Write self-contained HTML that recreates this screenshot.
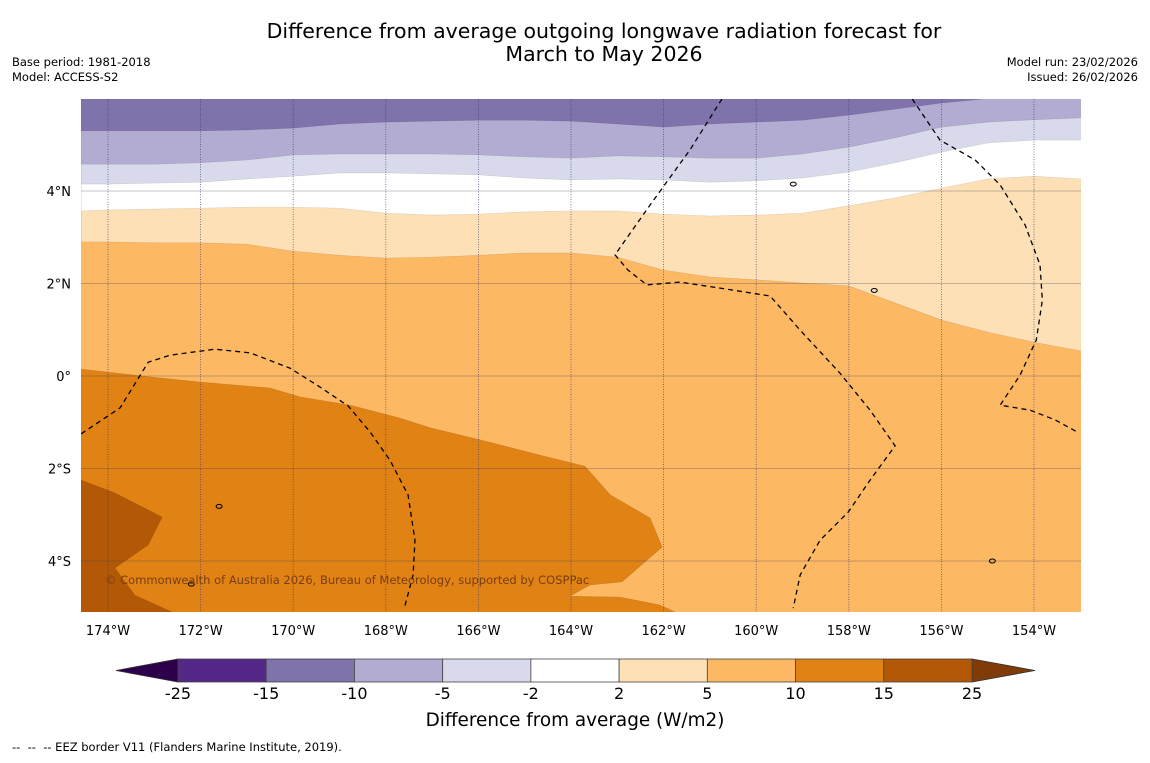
<!DOCTYPE html>
<html><head><meta charset="utf-8"><style>
body{margin:0;background:#fff;width:1150px;height:758px;overflow:hidden;font-family:"Liberation Sans","DejaVu Sans",sans-serif}
text{white-space:pre}
</style></head><body>
<svg id="c" width="1150" height="758" xmlns="http://www.w3.org/2000/svg" font-family="DejaVu Sans, Liberation Sans, sans-serif">
<rect width="1150" height="758" fill="#fff"/>
<text x="604" y="38" text-anchor="middle" font-size="20.5">Difference from average outgoing longwave radiation forecast for</text>
<text x="604" y="61" text-anchor="middle" font-size="20.5">March to May 2026</text>
<text x="12" y="66" font-size="11.5">Base period: 1981-2018</text>
<text x="12" y="81" font-size="11.5">Model: ACCESS-S2</text>
<text x="1138" y="66" font-size="11.5" text-anchor="end">Model run: 23/02/2026</text>
<text x="1138" y="81" font-size="11.5" text-anchor="end">Issued: 26/02/2026</text>
<defs><clipPath id="mc"><rect x="81" y="99" width="1000" height="513"/></clipPath></defs>
<g id="map" clip-path="url(#mc)"></g>
<g id="axes"></g>
<g id="cbar"></g>
<text x="575" y="726" text-anchor="middle" font-size="18.4">Difference from average (W/m2)</text>
<text x="12" y="751" font-size="11.5" xml:space="preserve">--  --  -- EEZ border V11 (Flanders Marine Institute, 2019).</text>
</svg>
<script>
// ---- data ----
const lonTicks=[-174,-172,-170,-168,-166,-164,-162,-160,-158,-156,-154];
const latTicks=[4,2,0,-2,-4];
const latTickLabels=["4°N","2°N","0°","2°S","4°S"];
const sampleLons=[-174.58,-174,-173,-172,-171,-170,-169,-168,-167,-166,-165,-164,-163,-162,-161,-160,-159,-158,-157,-156,-155,-154,-152.98];
// boundary latitudes (lower edge of each colour band) at sampleLons
const bound2to5=[2.90,2.90,2.88,2.88,2.85,2.70,2.61,2.55,2.57,2.61,2.66,2.66,2.57,2.29,2.14,2.08,2.01,1.95,1.58,1.21,0.95,0.73,0.54];
const boundMinus2to2=[3.57,3.59,3.61,3.63,3.65,3.65,3.63,3.52,3.48,3.50,3.55,3.57,3.57,3.50,3.46,3.48,3.52,3.68,3.85,4.06,4.26,4.32,4.26];
const boundMinus5to2=[4.15,4.15,4.17,4.19,4.26,4.32,4.39,4.39,4.37,4.35,4.28,4.24,4.26,4.24,4.19,4.22,4.28,4.41,4.61,4.84,5.04,5.10,5.10];
const boundMinus10to5=[4.58,4.58,4.58,4.61,4.67,4.78,4.80,4.80,4.80,4.78,4.74,4.71,4.76,4.74,4.71,4.71,4.80,4.95,5.15,5.38,5.49,5.54,5.58];
const boundMinus15to10=[5.30,5.30,5.30,5.30,5.32,5.36,5.45,5.49,5.51,5.53,5.53,5.51,5.45,5.38,5.45,5.49,5.53,5.64,5.77,5.90,6.0,6.0,6.0];
const region10to15=[[-174.58,0.15],[-173.09,-0.02],[-172.01,-0.13],[-170.5,-0.26],[-169.85,-0.45],[-168.77,-0.63],[-167.69,-0.91],[-167.04,-1.12],[-165.96,-1.38],[-164.67,-1.71],[-163.7,-1.95],[-163.15,-2.57],[-162.29,-3.07],[-162.03,-3.70],[-162.9,-4.45],[-163.59,-4.52],[-164.02,-4.76],[-162.94,-4.78],[-162.08,-4.95],[-161.54,-5.2],[-174.58,-5.2]];
const region15to25=[[-174.58,-2.25],[-173.85,-2.53],[-172.83,-3.05],[-173.13,-3.65],[-173.85,-4.15],[-173.42,-4.74],[-172.4,-5.2],[-174.58,-5.2]];
const eez1=[[-174.58,-1.25],[-173.74,-0.69],[-173.13,0.30],[-172.66,0.45],[-171.69,0.58],[-170.93,0.50],[-170.07,0.17],[-169.42,-0.24],[-168.81,-0.65],[-168.34,-1.21],[-167.91,-1.82],[-167.52,-2.57],[-167.37,-3.55],[-167.41,-4.30],[-167.6,-5.02]];
const eez2=[[-160.74,5.99],[-161.43,4.89],[-162.29,3.70],[-163.05,2.62],[-162.77,2.29],[-162.36,1.97],[-161.64,2.03],[-160.78,1.90],[-159.7,1.73],[-159.05,0.99],[-158.19,0.06],[-157.54,-0.74],[-157.0,-1.51],[-157.54,-2.25],[-158.01,-2.94],[-158.62,-3.55],[-159.05,-4.30],[-159.2,-5.02]];
const eez3=[[-156.63,5.99],[-156.03,5.10],[-155.27,4.67],[-154.73,4.13],[-154.19,3.26],[-153.87,2.40],[-153.82,1.64],[-153.95,0.78],[-154.3,0.02],[-154.73,-0.63],[-154.08,-0.74],[-153.54,-0.95],[-153.07,-1.21]];
const islands=[[-159.2,4.15],[-157.45,1.85],[-171.6,-2.82],[-172.2,-4.5],[-154.9,-4.0]];
const cbLevels=["-25","-15","-10","-5","-2","2","5","10","15","25"];
const cbColors=["#542788","#8073ac","#b2abd2","#d8daeb","#ffffff","#fee0b6","#fdb863","#e08214","#b35806"];
// ---- scales ----
const X=lon=>108+(lon+174)*46.3;
const Y=lat=>376-lat*46.25;
const NS="http://www.w3.org/2000/svg";
function mk(tag,attrs,parent){const e=document.createElementNS(NS,tag);for(const k in attrs)e.setAttribute(k,attrs[k]);parent.appendChild(e);return e;}
const map=document.getElementById('map');
const axes=document.getElementById('axes');
const cbar=document.getElementById('cbar');
mk('rect',{x:81,y:99,width:1000,height:513,fill:'#fdb863'},map);
function bandAbove(arr,color,name){
  let d='M'+X(sampleLons[0])+','+Y(arr[0]);
  for(let i=1;i<arr.length;i++)d+=' L'+X(sampleLons[i])+','+Y(arr[i]);
  d+=' L'+X(sampleLons[sampleLons.length-1])+','+Y(7)+' L'+X(sampleLons[0])+','+Y(7)+'Z';
  const p=mk('path',{d:d,fill:color,stroke:'rgba(0,0,0,0.12)','stroke-width':0.6},map);
  
  
}
bandAbove(bound2to5,'#fee0b6','band-2-to-5');
bandAbove(boundMinus2to2,'#ffffff','band-minus2-to-2');
bandAbove(boundMinus5to2,'#d8daeb','band-minus5-to-minus2');
bandAbove(boundMinus10to5,'#b2abd2','band-minus10-to-minus5');
bandAbove(boundMinus15to10,'#8073ac','band-minus15-to-minus10');
function poly(pts,color,name){
  const d='M'+pts.map(p=>X(p[0])+','+Y(p[1])).join(' L')+'Z';
  const p=mk('path',{d:d,fill:color,stroke:'rgba(0,0,0,0.12)','stroke-width':0.6},map);
  
  
}
poly(region10to15,'#e08214','band-10-to-15');
poly(region15to25,'#b35806','band-15-to-25');
latTicks.forEach(lat=>{const l=mk('line',{x1:81,x2:1081,y1:Y(lat),y2:Y(lat),stroke:'rgba(60,60,90,0.3)','stroke-width':1},map);

});
lonTicks.forEach(lon=>{const l=mk('line',{x1:X(lon),x2:X(lon),y1:99,y2:612,stroke:'#3a3a70','stroke-width':0.8,'stroke-dasharray':'1,1.5',opacity:0.8},map);

});
[eez1,eez2,eez3].forEach((pts,i)=>{const p=mk('path',{d:'M'+pts.map(q=>X(q[0])+','+Y(q[1])).join(' L'),fill:'none',stroke:'#000','stroke-width':1.3,'stroke-dasharray':'5,4'},map);

});
islands.forEach(q=>{const e=mk('ellipse',{cx:X(q[0]),cy:Y(q[1]),rx:3,ry:2,fill:'none',stroke:'#000','stroke-width':1},map);

});
const cp=mk('text',{x:105,y:584,'font-size':11.5,fill:'#7a3d10'},map);cp.textContent='© Commonwealth of Australia 2026, Bureau of Meteorology, supported by COSPPac';


lonTicks.forEach(lon=>{const t=mk('text',{x:X(lon),y:635,'text-anchor':'middle','font-size':13},axes);t.textContent=Math.abs(lon)+'°W';

});
latTicks.forEach((lat,i)=>{const t=mk('text',{x:71,y:Y(lat)+5,'text-anchor':'end','font-size':13},axes);t.textContent=latTickLabels[i];

});
const cbX0=178,cbX1=972,cbY=659,cbH=23,w=(cbX1-cbX0)/cbColors.length;
const lt=mk('polygon',{points:`116,${cbY+cbH/2} ${cbX0},${cbY} ${cbX0},${cbY+cbH}`,fill:'#2d004b',stroke:'#333','stroke-width':0.8},cbar);


const rt=mk('polygon',{points:`1035,${cbY+cbH/2} ${cbX1},${cbY} ${cbX1},${cbY+cbH}`,fill:'#7f3b08',stroke:'#333','stroke-width':0.8},cbar);


cbColors.forEach((c,i)=>{const r=mk('rect',{x:cbX0+i*w,y:cbY,width:w,height:cbH,fill:c,stroke:'#444','stroke-width':0.8},cbar);

});
cbLevels.forEach((s,i)=>{const t=mk('text',{x:cbX0+i*w,y:699,'text-anchor':'middle','font-size':16},cbar);t.textContent=s;

});
</script>
</body></html>
